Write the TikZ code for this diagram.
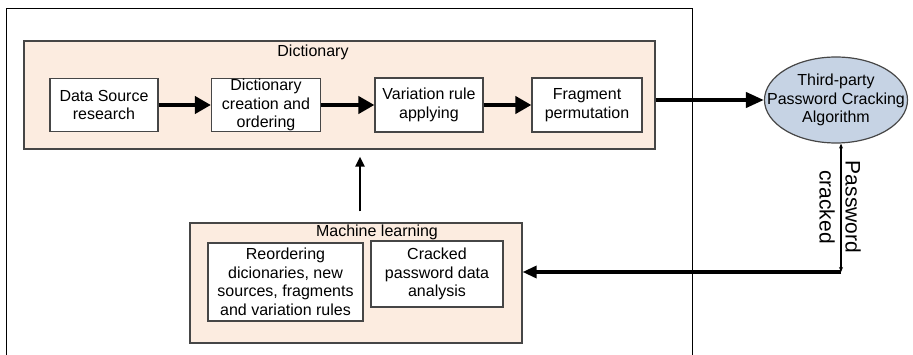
\documentclass[tikz,border=0pt]{standalone}
\usepackage{fontspec}
\setmainfont{Liberation Sans}
\usetikzlibrary{arrows.meta,shapes.geometric}
\definecolor{groupfill}{RGB}{252,236,224}
\definecolor{algfill}{RGB}{198,211,228}
\definecolor{edgegray}{RGB}{70,70,70}
\tikzset{
   procbox/.style={draw=edgegray,line width=1.2pt,fill=white,align=center,inner sep=0pt,
      font=\fontsize{16}{18.5}\selectfont},
   groupbox/.style={draw=edgegray,line width=1.2pt,fill=groupfill,inner sep=0pt},
   grouptitle/.style={font=\fontsize{16}{18.5}\selectfont},
   bigarrow/.style={line width=4.5pt,-{Triangle[length=16pt,width=17pt]}},
   algarrow/.style={line width=4pt,-{Triangle[length=18pt,width=15pt]}},
   learnarrow/.style={line width=2.5pt,-{Triangle[length=10pt,width=9pt]}},
   backarrow/.style={line width=3.2pt,-{Triangle[length=14pt,width=12pt]}},
}
\begin{document}
\begin{tikzpicture}[x=1pt,y=-1pt]
   \useasboundingbox (0,0) rectangle (913,355);
   \draw[line width=0.9pt] (6,355) -- (6,8) -- (692,8) -- (692,355);

   \node[groupbox,minimum width=631pt,minimum height=108pt] (dict) at (339.5,95) {};
   \node[grouptitle] (dicttitle) at (313,52) {Dictionary};
   \node[procbox,minimum width=108pt,minimum height=53pt] (source) at (104,105) {Data Source\\research};
   \node[procbox,minimum width=109pt,minimum height=53pt] (create) at (266,105) {Dictionary\\creation and\\ordering};
   \node[procbox,minimum width=108pt,minimum height=54pt] (rule) at (429,105) {Variation rule\\applying};
   \node[procbox,minimum width=110pt,minimum height=54pt] (frag) at (587,105) {Fragment\\permutation};

   \node[ellipse,draw=edgegray,line width=1.2pt,fill=algfill,minimum width=143pt,minimum height=86pt,
      inner sep=0pt] (alg) at (836,100) {};
   \node[align=center,font=\fontsize{16}{18.5}\selectfont] (algtext) at (alg.center)
      {Third-party\\Password Cracking\\Algorithm};

   \node[groupbox,minimum width=332pt,minimum height=120pt] (ml) at (356,283) {};
   \node[grouptitle] (mltitle) at (377,232) {Machine learning};
   \node[procbox,minimum width=155pt,minimum height=78pt] (reorder) at (285.5,282)
      {Reordering\\dicionaries, new\\sources, fragments\\and variation rules};
   \node[procbox,minimum width=132pt,minimum height=66pt] (analysis) at (437,274)
      {Cracked\\password data\\analysis};

   \coordinate (corner) at (841,272);
   \node[rotate=-90,align=center,font=\fontsize{21}{26}\selectfont] (crackedlabel) at (840,207)
      {Password\\cracked};

   \draw[bigarrow] (source) -- (create);
   \draw[bigarrow] (create) -- (rule);
   \draw[bigarrow] (rule) -- (frag);
   \draw[algarrow] (dict.east |- alg) -- (alg.west);
   \draw[learnarrow,shorten <=11pt,shorten >=7pt] (ml.north -| 360,0) -- (dict.south -| 360,0);
   \draw[line width=1.3pt,{Stealth[length=5pt,width=4pt]}-{Stealth[length=5pt,width=4pt]}]
      (alg.south -| corner) -- (corner);
   \draw[backarrow] (corner) -- (corner -| ml.east);
\end{tikzpicture}
\end{document}
